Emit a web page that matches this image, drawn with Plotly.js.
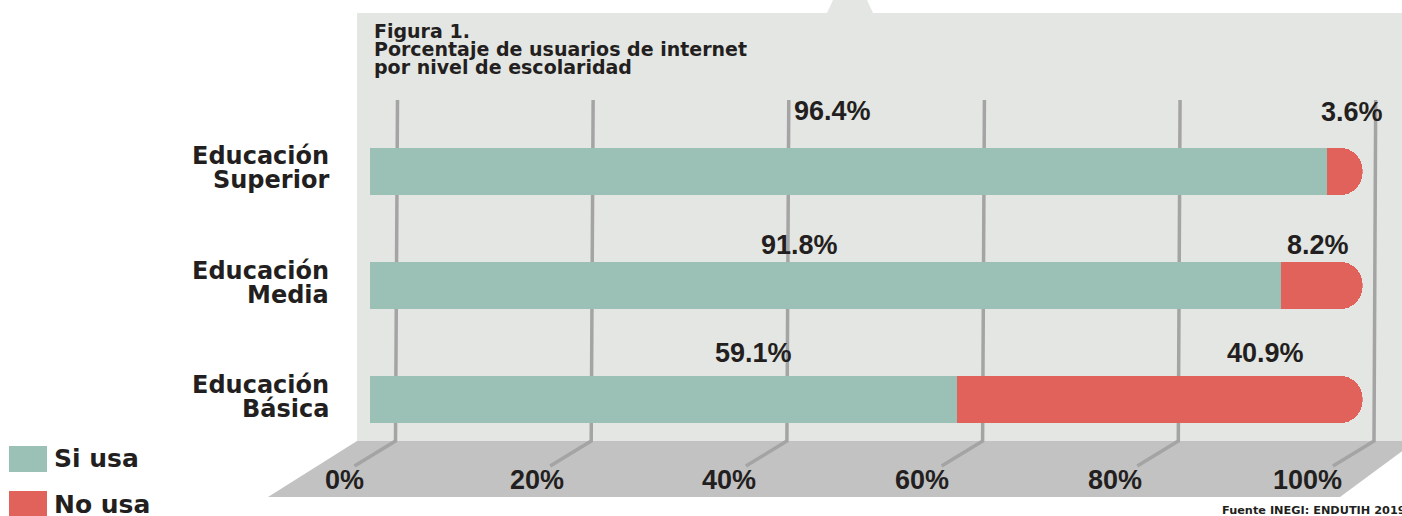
<!DOCTYPE html>
<html>
<head>
<meta charset="utf-8">
<script src="https://cdn.plot.ly/plotly-3.0.1.min.js"></script>
<style>
  html, body { margin: 0; padding: 0; background: #ffffff; }
  #chart { width: 1402px; height: 516px; }
</style>
</head>
<body>
<div id="chart"></div>
<script>
// ---- data ----
const categories = ['Educación Básica', 'Educación Media', 'Educación Superior'];
const siUsa = [59.1, 91.8, 96.4];
const noUsa = [40.9, 8.2, 3.6];
const tickVals = [0, 20, 40, 60, 80, 100];
const tickText = ['0%', '20%', '40%', '60%', '80%', '100%'];
const seriesNames = ['Si usa', 'No usa'];
const titleLines = ['Figura 1.', 'Porcentaje de usuarios de internet', 'por nivel de escolaridad'];
const sourceText = 'Fuente INEGI: ENDUTIH 2019';

// ---- style / placement (pixels) ----
const W = 1402, H = 516;
const X = px => px / W;
const Y = py => 1 - py / H;
const GREEN = '#9bc1b6', RED = '#e0625b', TXT = '#231f20';
const PANEL = '#e4e6e3', FLOOR = '#c2c2c2', GRID = '#a4a4a4';
const greenLblPos = [[753, 352.5], [799, 245], [832, 111.5]];
const redLblPos = [[1265, 352.5], [1318, 245], [1352, 112]];
const NUMFONT = 'Liberation Sans, Arial, sans-serif';
const WORDFONT = 'DejaVu Sans, sans-serif';

const traces = [
  {type: 'bar', orientation: 'h', name: seriesNames[0], y: categories, x: siUsa,
   marker: {color: GREEN, line: {width: 0}}, hoverinfo: 'skip', showlegend: false},
  {type: 'bar', orientation: 'h', name: seriesNames[1], y: categories, x: noUsa,
   marker: {color: RED, line: {width: 0}}, hoverinfo: 'skip', showlegend: false}
];

const shapes = [];
// background panel with top notch
shapes.push({type: 'path', xref: 'paper', yref: 'paper', layer: 'below',
  path: `M${X(357)},${Y(13)} L${X(827)},${Y(13)} L${X(833)},${Y(0)} L${X(867)},${Y(0)} L${X(873)},${Y(13)} L${X(1402)},${Y(13)} L${X(1402)},${Y(441)} L${X(357)},${Y(441)} Z`,
  fillcolor: PANEL, line: {width: 0}});
// floor
shapes.push({type: 'path', xref: 'paper', yref: 'paper', layer: 'below',
  path: `M${X(357)},${Y(441)} L${X(1416)},${Y(441)} L${X(1340)},${Y(497)} L${X(268)},${Y(497)} Z`,
  fillcolor: FLOOR, line: {width: 0}});
// gridlines (back wall, perspective)
tickVals.forEach(v => {
  const xt = 397.5 + v * 9.782, xb = 395.5 + v * 9.785;
  shapes.push({type: 'path', xref: 'paper', yref: 'paper', layer: 'below',
    path: `M${X(xt)},${Y(100)} L${X(xb)},${Y(441)} L${X(xb - 41)},${Y(466)}`,
    line: {color: GRID, width: 3.5}});
});
// legend squares
shapes.push({type: 'rect', xref: 'paper', yref: 'paper', x0: X(9), x1: X(47), y0: Y(446), y1: Y(472),
  fillcolor: GREEN, line: {width: 0}});
shapes.push({type: 'rect', xref: 'paper', yref: 'paper', x0: X(9), x1: X(47), y0: Y(491), y1: Y(520),
  fillcolor: RED, line: {width: 0}});

const annotations = [];
// title lines
titleLines.forEach((t, i) => {
  annotations.push({xref: 'paper', yref: 'paper', x: X(372), y: Y(31 + i * 18), xanchor: 'left', yanchor: 'middle',
    text: '<b>' + t + '</b>', showarrow: false, font: {family: WORDFONT, size: 19, color: TXT}});
});
// category labels (two lines, right aligned)
categories.forEach(c => {
  const parts = c.split(' ');
  annotations.push({xref: 'paper', yref: 'y', x: X(331), y: c, xanchor: 'right', yanchor: 'middle', yshift: 15,
    text: '<b>' + parts[0] + '</b>', showarrow: false, font: {family: WORDFONT, size: 24, color: TXT}});
  annotations.push({xref: 'paper', yref: 'y', x: X(331), y: c, xanchor: 'right', yanchor: 'middle', yshift: -9,
    text: '<b>' + parts.slice(1).join(' ') + '</b>', showarrow: false, font: {family: WORDFONT, size: 24, color: TXT}});
});
// value labels
categories.forEach((c, i) => {
  annotations.push({xref: 'paper', yref: 'paper', x: X(greenLblPos[i][0]), y: Y(greenLblPos[i][1]),
    xanchor: 'center', yanchor: 'middle', text: '<b>' + siUsa[i].toFixed(1) + '%</b>', showarrow: false,
    font: {family: NUMFONT, size: 27, color: TXT}});
  annotations.push({xref: 'paper', yref: 'paper', x: X(redLblPos[i][0]), y: Y(redLblPos[i][1]),
    xanchor: 'center', yanchor: 'middle', text: '<b>' + noUsa[i].toFixed(1) + '%</b>', showarrow: false,
    font: {family: NUMFONT, size: 27, color: TXT}});
});
// floor tick labels
tickVals.forEach((v, i) => {
  annotations.push({xref: 'paper', yref: 'paper', x: X(344 + v * 9.635), y: Y(480), xanchor: 'center', yanchor: 'middle',
    text: '<b>' + tickText[i] + '</b>', showarrow: false, font: {family: NUMFONT, size: 27, color: TXT}});
});
// legend labels
annotations.push({xref: 'paper', yref: 'paper', x: X(52), y: Y(458), xanchor: 'left', yanchor: 'middle',
  text: '<b>' + seriesNames[0] + '</b>', showarrow: false, font: {family: WORDFONT, size: 25, color: TXT}});
annotations.push({xref: 'paper', yref: 'paper', x: X(52), y: Y(504), xanchor: 'left', yanchor: 'middle',
  text: '<b>' + seriesNames[1] + '</b>', showarrow: false, font: {family: WORDFONT, size: 25, color: TXT}});
// source
annotations.push({xref: 'paper', yref: 'paper', x: X(1220), y: Y(510), xanchor: 'left', yanchor: 'middle',
  text: '<b>' + sourceText + '</b>', showarrow: false, font: {family: WORDFONT, size: 11.3, color: TXT}});

const layout = {
  width: W, height: H,
  margin: {l: 0, r: 0, t: 0, b: 0, pad: 0},
  paper_bgcolor: '#ffffff', plot_bgcolor: 'rgba(0,0,0,0)',
  barmode: 'stack', bargap: 0.5825, barcornerradius: '50%',
  showlegend: false,
  xaxis: {domain: [370 / W, 1362.7 / W], range: [0, 100], showgrid: false, zeroline: false,
          showticklabels: false, ticks: '', showline: false, fixedrange: true},
  yaxis: {domain: [Y(456.5), Y(114.5)], type: 'category', categoryorder: 'array', categoryarray: categories,
          range: [-0.5, 2.5], showgrid: false, zeroline: false, showticklabels: false, ticks: '',
          showline: false, fixedrange: true},
  shapes: shapes,
  annotations: annotations,
  hovermode: false
};

Plotly.newPlot('chart', traces, layout, {displayModeBar: false, staticPlot: true});
</script>
</body>
</html>
